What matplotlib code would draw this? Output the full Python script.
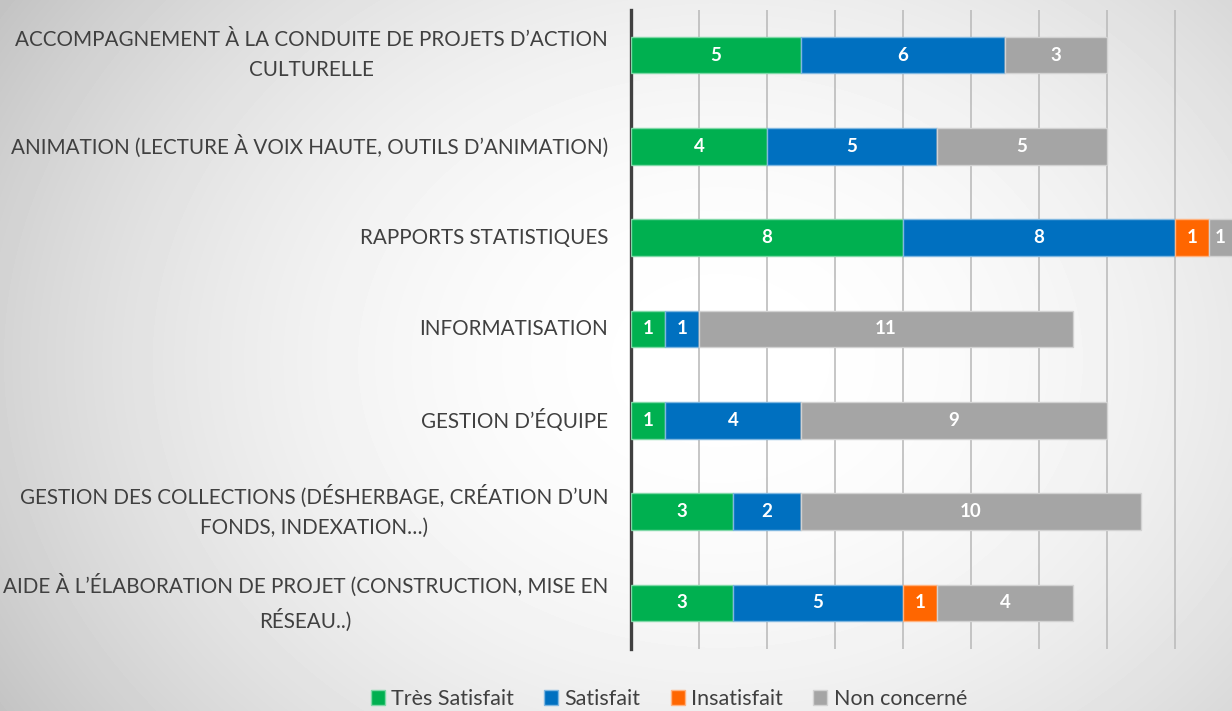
import numpy as np
import matplotlib
matplotlib.use('Agg')
import matplotlib.pyplot as plt
from matplotlib.patches import Patch

plt.rcParams['font.family'] = ['Lato', 'DejaVu Sans']

categories = [
    'ACCOMPAGNEMENT À LA CONDUITE DE PROJETS D’ACTION\nCULTURELLE',
    'ANIMATION (LECTURE À VOIX HAUTE, OUTILS D’ANIMATION)',
    'RAPPORTS STATISTIQUES',
    'INFORMATISATION',
    'GESTION D’ÉQUIPE',
    'GESTION DES COLLECTIONS (DÉSHERBAGE, CRÉATION D’UN\nFONDS, INDEXATION…)',
    'AIDE À L’ÉLABORATION DE PROJET (CONSTRUCTION, MISE EN\nRÉSEAU..)',
]
series_names = ['Très Satisfait', 'Satisfait', 'Insatisfait', 'Non concerné']
tres_satisfait = [5, 4, 8, 1, 1, 3, 3]
satisfait = [6, 5, 8, 1, 4, 2, 5]
insatisfait = [0, 0, 1, 0, 0, 0, 1]
non_concerne = [3, 5, 1, 11, 9, 10, 4]

colors = ['#00B050', '#0070C0', '#FF6600', '#A5A5A5']
edges = ['#7fd8a7', '#7fb7e0', '#ffb27f', '#d2d2d2']

W, H = 1232, 711
fig = plt.figure(figsize=(W / 100, H / 100), dpi=100)

# radial grey background
bg = fig.add_axes([0, 0, 1, 1], zorder=-10)
yy, xx = np.mgrid[0:H, 0:W]
r = np.sqrt(((xx - 720) / 820.0) ** 2 + ((yy - 360) / 650.0) ** 2)
shade = 1.0 - 0.22 * np.clip(r, 0, 1.3) ** 2
bg.imshow(shade, cmap='gray', vmin=0, vmax=1, aspect='auto', extent=[0, W, H, 0])
bg.axis('off')

x0 = 631 / W
y_top = 1 - 9.5 / H
y_bot = 1 - 648.5 / H
ax = fig.add_axes([x0, y_bot, 1 - x0, y_top - y_bot])
ax.patch.set_alpha(0)

y = np.arange(len(categories))
left = np.zeros(len(categories))
for name, vals, c, ec in zip(series_names, [tres_satisfait, satisfait, insatisfait, non_concerne], colors, edges):
    vals = np.array(vals)
    bars = ax.barh(y, vals, left=left, height=0.40, color=c, edgecolor=ec, linewidth=1, label=name, zorder=3)
    ax.bar_label(bars, labels=['' if v == 0 else str(v) for v in vals], label_type='center',
                 color='white', fontweight='bold', fontsize=13.5)
    left += vals

ax.set_xlim(0, (W - 631) / 34.0)
ax.set_ylim(len(categories) - 0.5, -0.5)
ax.set_xticks(np.arange(2, 18, 2))
ax.xaxis.grid(True, color='#bcbcbc', linewidth=1.2, zorder=0)
ax.tick_params(axis='x', length=0, labelbottom=False)
ax.tick_params(axis='y', length=0, pad=16.5)
ax.set_yticks(y)
ax.set_yticklabels(categories, fontsize=14.9, color='#404040', multialignment='center', linespacing=1.65)
for lab in ax.get_yticklabels():
    lab.set_verticalalignment('center')
for s in ['top', 'right', 'bottom']:
    ax.spines[s].set_visible(False)
ax.spines['left'].set_color('#404040')
ax.spines['left'].set_linewidth(2.4)

handles = [Patch(facecolor=c, edgecolor=ec) for c, ec in zip(colors, edges)]
fig.legend(handles, series_names, loc='center', bbox_to_anchor=(669 / W, 1 - 699 / H), ncol=4,
           frameon=False, fontsize=15.5, handlelength=0.65, handleheight=0.65, handletextpad=0.3,
           columnspacing=1.4, labelcolor='#404040')

fig.savefig('out.png', dpi=100)
